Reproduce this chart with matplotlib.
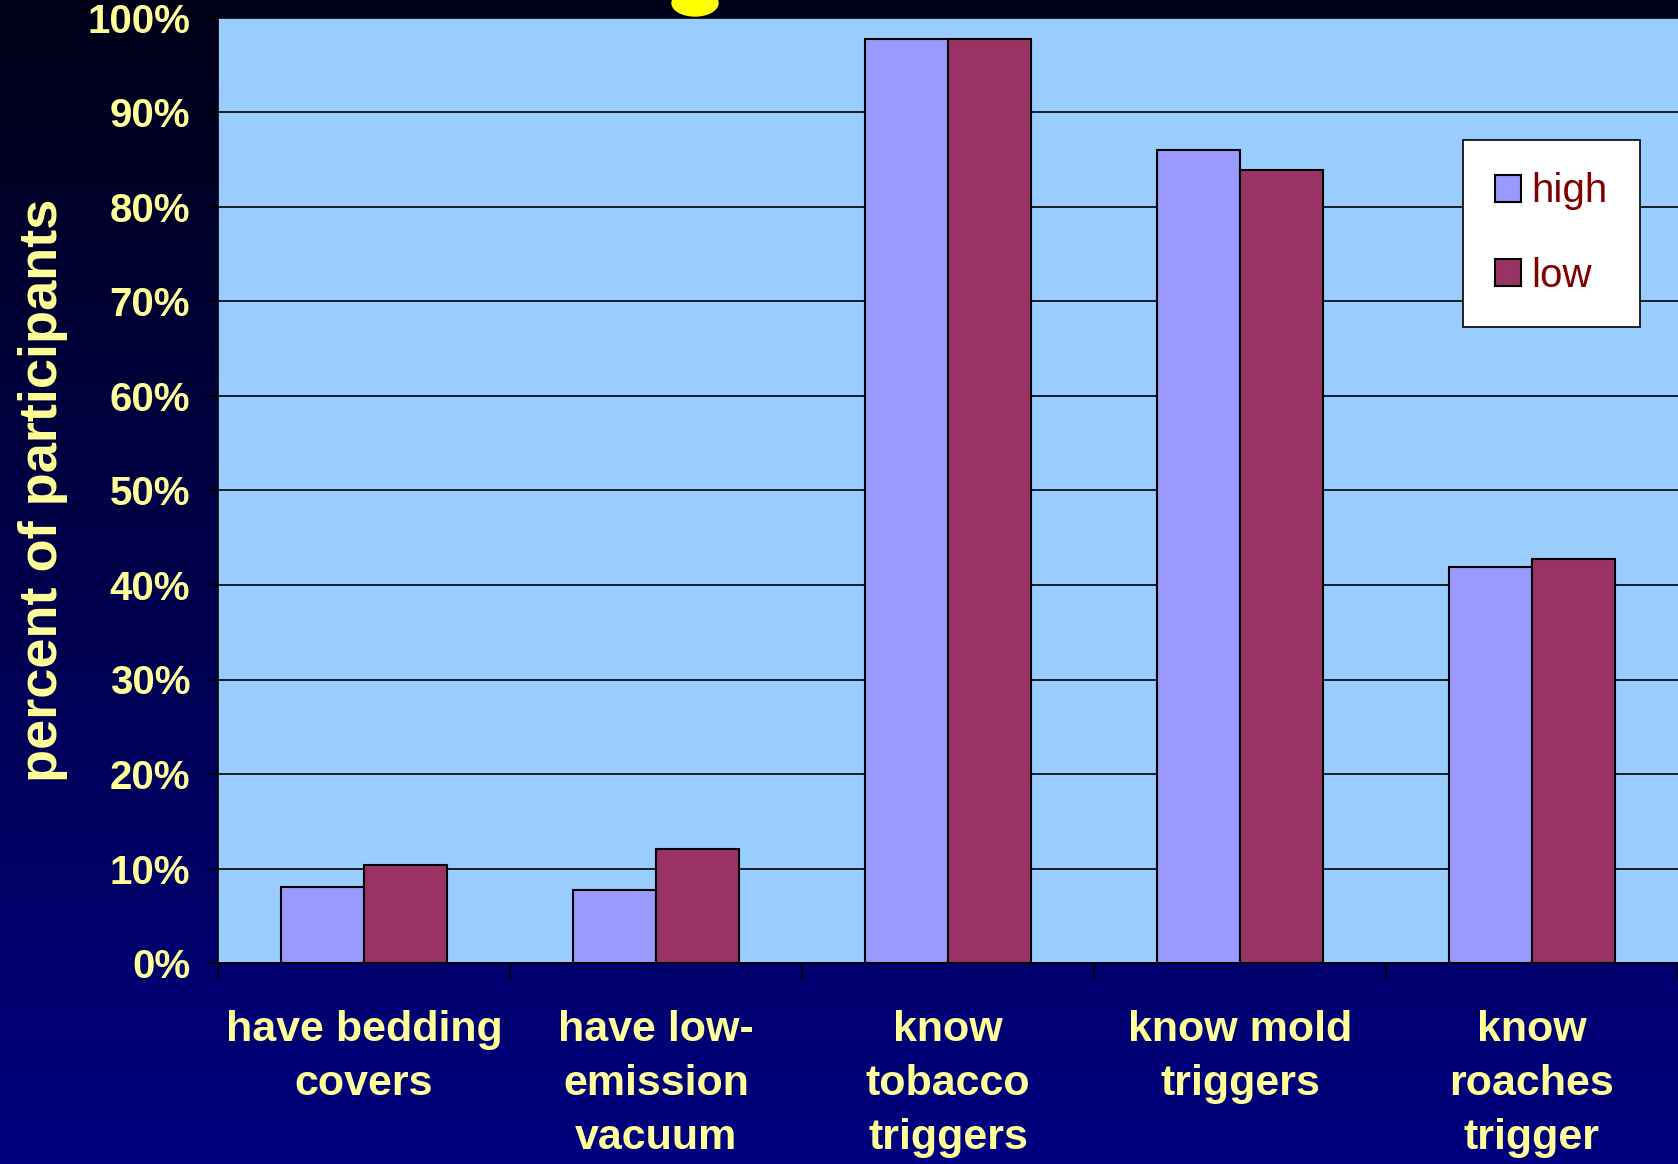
import numpy as np
import matplotlib
matplotlib.use("Agg")
import matplotlib.pyplot as plt
from matplotlib.patches import Ellipse

categories = ["have bedding\ncovers", "have low-\nemission\nvacuum", "know\ntobacco\ntriggers",
              "know mold\ntriggers", "know\nroaches\ntrigger"]
high = [8.0, 7.7, 97.8, 86.0, 41.9]
low = [10.4, 12.1, 97.8, 83.9, 42.8]
yticks = [0, 10, 20, 30, 40, 50, 60, 70, 80, 90, 100]

W, H = 1678, 1164
fig = plt.figure(figsize=(W / 100, H / 100), dpi=100)

# background gradient
bg = fig.add_axes([0, 0, 1, 1], zorder=-10)
grad = np.linspace(0, 1, 256).reshape(-1, 1)
top = np.array([0, 0, 24]) / 255
bottom = np.array([0, 0, 128]) / 255
img = top + (bottom - top) * grad[..., None]
bg.imshow(img, aspect="auto", extent=[0, 1, 0, 1])
bg.set_axis_off()
# cut-off title glyph at top
bg.add_patch(Ellipse((695 / W, 1 - 3 / H), 46 / W, 26 / H, color="#FFFF00",
                     transform=bg.transAxes, clip_on=True))

left, right, top_px, bot_px = 218, 1678, 18, 963
ax = fig.add_axes([left / W, 1 - bot_px / H, (right - left) / W, (bot_px - top_px) / H])
ax.set_facecolor("#99CCFF")

x = np.arange(len(categories))
bw = 1 / 3.5
ax.bar(x - bw / 2, high, bw, color="#9999FF", edgecolor="black", linewidth=1.5,
       label="high", zorder=3)
ax.bar(x + bw / 2, low, bw, color="#993366", edgecolor="black", linewidth=1.5,
       label="low", zorder=3)

ax.set_xlim(-0.5, len(categories) - 0.5)
ax.set_ylim(0, 100)
ax.set_yticks(yticks)
ax.set_yticklabels([f"{v}%" for v in yticks])
ax.yaxis.grid(True, color="black", linewidth=1.2, zorder=1)
ax.set_axisbelow(True)

ax.set_xticks(x)
ax.set_xticklabels(categories, linespacing=1.45)
ax.set_xticks(np.arange(len(categories) + 1) - 0.5, minor=True)
ax.tick_params(axis="x", which="major", length=0, pad=34)
ax.tick_params(axis="x", which="minor", length=12, width=1.2, color="black", direction="out")
ax.tick_params(axis="y", length=8, width=1.2, color="black", direction="out", pad=12)

for lab in ax.get_xticklabels():
    lab.set_color("#FFFF99")
    lab.set_fontweight("bold")
    lab.set_fontfamily("Liberation Sans")
    lab.set_fontsize(31)
for lab in ax.get_yticklabels():
    lab.set_color("#FFFF99")
    lab.set_fontweight("bold")
    lab.set_fontfamily("Liberation Sans")
    lab.set_fontsize(29)

ax.set_ylabel("percent of participants", color="#FFFF99", fontsize=39,
              fontweight="bold", fontfamily="Liberation Sans", labelpad=14)

for side in ["top", "right"]:
    ax.spines[side].set_visible(False)
ax.spines["left"].set_color("black")
ax.spines["bottom"].set_color("black")
ax.spines["left"].set_linewidth(1.2)
ax.spines["bottom"].set_linewidth(1.2)

leg = ax.legend(loc="upper left", bbox_to_anchor=((1463 - left) / (right - left), 1 - (140 - top_px) / (bot_px - top_px)),
                frameon=True, fancybox=False, prop={"family": "Liberation Sans", "size": 29},
                labelspacing=1.15, handlelength=0.65, handleheight=0.65, handletextpad=0.25,
                borderpad=0.8, borderaxespad=0)
leg.get_frame().set_edgecolor("black")
leg.get_frame().set_linewidth(1.2)
leg.get_frame().set_facecolor("white")
leg.get_frame().set_alpha(1)
for t in leg.get_texts():
    t.set_color("#800000")

fig.savefig("out.png", dpi=100)
